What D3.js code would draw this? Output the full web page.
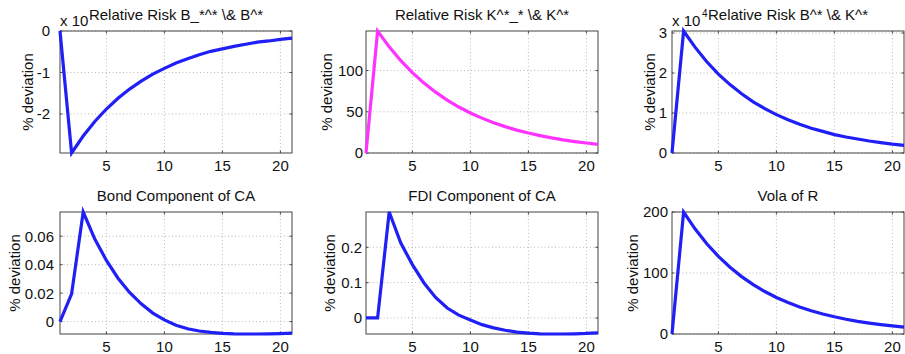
<!DOCTYPE html>
<html>
<head>
<meta charset="utf-8">
<script src="https://cdn.jsdelivr.net/npm/d3@7"></script>
<style>
  html, body { margin: 0; padding: 0; background: #fff; }
  svg { display: block; }
  text { font-family: "Liberation Sans", Arial, Helvetica, sans-serif; fill: #111; }
</style>
</head>
<body>
<svg id="chart" width="905" height="354"></svg>
<script>
// ---- Data ----
const periods = [1,2,3,4,5,6,7,8,9,10,11,12,13,14,15,16,17,18,19,20,21];
const xTicks = [5, 10, 15, 20];

const riskBB = [0, -2.94, -2.53, -2.18, -1.88, -1.62, -1.40, -1.21, -1.04, -0.90, -0.77, -0.67, -0.57, -0.49, -0.43, -0.37, -0.32, -0.27, -0.24, -0.20, -0.17];
const riskKK = [0, 148, 128.8, 112.0, 97.5, 84.8, 73.8, 64.2, 55.8, 48.6, 42.3, 36.8, 32.0, 27.8, 24.2, 21.1, 18.3, 15.9, 13.9, 12.1, 10.5];
const riskBK = [0, 3.05, 2.64, 2.28, 1.97, 1.71, 1.48, 1.28, 1.11, 0.96, 0.83, 0.72, 0.62, 0.54, 0.46, 0.40, 0.35, 0.30, 0.26, 0.22, 0.19];
const bondCA = [0, 0.0195, 0.077, 0.058, 0.043, 0.0305, 0.0205, 0.0125, 0.006, 0.0012, -0.0025, -0.005, -0.0066, -0.0076, -0.0082, -0.0086, -0.0087, -0.0087, -0.0086, -0.0084, -0.0081];
const fdiCA  = [0, 0, 0.30, 0.212, 0.151, 0.099, 0.058, 0.028, 0.008, -0.006, -0.019, -0.028, -0.035, -0.040, -0.043, -0.045, -0.0455, -0.0455, -0.045, -0.044, -0.042];
const volaR  = [0, 200, 172, 147.9, 127.2, 109.4, 94.1, 80.9, 69.6, 59.8, 51.5, 44.3, 38.1, 32.7, 28.2, 24.2, 20.8, 17.9, 15.4, 13.2, 11.4];

const titles = [
  "Relative Risk B_*^* \\& B^*",
  "Relative Risk K^*_* \\& K^*",
  "Relative Risk B^* \\& K^*",
  "Bond Component of CA",
  "FDI Component of CA",
  "Vola of R"
];
const yTicksList = [
  [-2, -1, 0],
  [0, 50, 100],
  [0, 1, 2, 3],
  [0, 0.02, 0.04, 0.06],
  [0, 0.1, 0.2],
  [0, 100, 200]
];
const yLabel = "% deviation";
const exponents = ["", "", "4", "", "", ""];

// ---- Layout (styles/positions) ----
const panels = [
  {data: riskBB, color: "#1f1ff6", x0: 60,  x1: 292, y0: 31,  y1: 153, ylabX: 33,  tickGap: 10, expo: true},
  {data: riskKK, color: "#ff33ff", x0: 366, x1: 598, y0: 31,  y1: 153, ylabX: 332, tickGap: 3},
  {data: riskBK, color: "#1f1ff6", x0: 672, x1: 904, y0: 31,  y1: 153, ylabX: 655, tickGap: 5, expo: true},
  {data: bondCA, color: "#1f1ff6", x0: 60,  x1: 292, y0: 212, y1: 334, ylabX: 20,  tickGap: 6},
  {data: fdiCA,  color: "#1f1ff6", x0: 366, x1: 598, y0: 212, y1: 334, ylabX: 335, tickGap: 4},
  {data: volaR,  color: "#1f1ff6", x0: 672, x1: 904, y0: 212, y1: 334, ylabX: 638, tickGap: 4}
];

const svg = d3.select("#chart");
const fmt = v => String(v);

panels.forEach((p, i) => {
  const x = d3.scaleLinear().domain(d3.extent(periods)).range([p.x0, p.x1]);
  const y = d3.scaleLinear().domain(d3.extent(p.data)).range([p.y1, p.y0]);
  const yTicks = yTicksList[i];
  const g = svg.append("g");

  // grid
  g.selectAll(".gx").data(xTicks).enter().append("line")
    .attr("x1", d => x(d)).attr("x2", d => x(d))
    .attr("y1", p.y0).attr("y2", p.y1)
    .attr("stroke", "#aaa").attr("stroke-width", 0.8).attr("stroke-dasharray", "1,2.5");
  g.selectAll(".gy").data(yTicks).enter().append("line")
    .attr("x1", p.x0).attr("x2", p.x1)
    .attr("y1", d => y(d)).attr("y2", d => y(d))
    .attr("stroke", "#aaa").attr("stroke-width", 0.8).attr("stroke-dasharray", "1,2.5");

  // frame
  g.append("rect").attr("x", p.x0).attr("y", p.y0)
    .attr("width", p.x1 - p.x0).attr("height", p.y1 - p.y0)
    .attr("fill", "none").attr("stroke", "#444").attr("stroke-width", 1);

  // inward ticks on all sides
  const tl = 2.5;
  xTicks.forEach(t => {
    g.append("line").attr("x1", x(t)).attr("x2", x(t)).attr("y1", p.y1).attr("y2", p.y1 - tl).attr("stroke", "#444");
    g.append("line").attr("x1", x(t)).attr("x2", x(t)).attr("y1", p.y0).attr("y2", p.y0 + tl).attr("stroke", "#444");
  });
  yTicks.forEach(t => {
    g.append("line").attr("x1", p.x0).attr("x2", p.x0 + tl).attr("y1", y(t)).attr("y2", y(t)).attr("stroke", "#444");
    g.append("line").attr("x1", p.x1).attr("x2", p.x1 - tl).attr("y1", y(t)).attr("y2", y(t)).attr("stroke", "#444");
  });

  // tick labels
  g.selectAll(".xl").data(xTicks).enter().append("text")
    .attr("x", d => x(d)).attr("y", p.y1 + 18)
    .attr("text-anchor", "middle").attr("font-size", 15)
    .text(d => fmt(d));
  g.selectAll(".yl").data(yTicks).enter().append("text")
    .attr("x", p.x0 - p.tickGap).attr("y", d => y(d)).attr("dy", "0.36em")
    .attr("text-anchor", "end").attr("font-size", 15)
    .text(d => fmt(d));

  // y label
  g.append("text")
    .attr("transform", `translate(${p.ylabX},${(p.y0 + p.y1) / 2}) rotate(-90)`)
    .attr("text-anchor", "middle").attr("font-size", 15)
    .text(yLabel);

  // exponent label
  if (p.expo) {
    g.append("text").attr("x", p.x0).attr("y", p.y0 - 5).attr("font-size", 15).text("x 10");
    if (exponents[i]) {
      g.append("text").attr("x", p.x0 + 30).attr("y", p.y0 - 14).attr("font-size", 10).text(exponents[i]);
    }
  }

  // title
  g.append("text")
    .attr("x", (p.x0 + p.x1) / 2).attr("y", p.y0 - 11.5)
    .attr("text-anchor", "middle").attr("font-size", 15)
    .text(titles[i]);

  // line
  const line = d3.line().x((d, k) => x(periods[k])).y(d => y(d));
  g.append("path").datum(p.data)
    .attr("d", line)
    .attr("fill", "none").attr("stroke", p.color)
    .attr("stroke-width", 3.2).attr("stroke-linejoin", "miter");
});
</script>
</body>
</html>
